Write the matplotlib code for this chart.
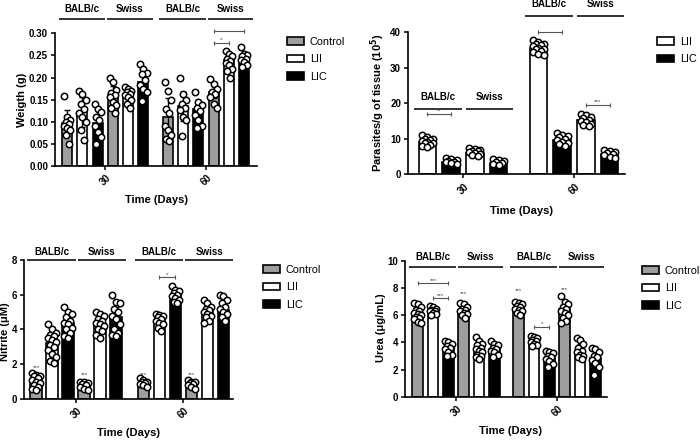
import matplotlib
matplotlib.use("Agg")
import matplotlib.pyplot as plt
import numpy as np
from matplotlib.patches import Patch

plt.rcParams['font.family'] = ['Liberation Sans', 'DejaVu Sans']

days = ["30", "60"]
strains = ["BALB/c", "Swiss"]
groups3 = ["Control", "LII", "LIC"]
groups2 = ["LII", "LIC"]

# order inside each day: BALB/c (Control, LII, LIC), Swiss (Control, LII, LIC)
weight_mean = [0.097, 0.122, 0.098, 0.160, 0.160, 0.191,
               0.110, 0.135, 0.128, 0.168, 0.239, 0.241]
weight_sd = [0.029, 0.034, 0.030, 0.020, 0.016, 0.017,
             0.043, 0.033, 0.021, 0.015, 0.012, 0.010]
weight_pts = [
    [0.159, 0.111, 0.105, 0.100, 0.095, 0.090, 0.085, 0.081, 0.070, 0.050],
    [0.170, 0.162, 0.150, 0.141, 0.130, 0.119, 0.110, 0.100, 0.081, 0.059],
    [0.141, 0.130, 0.123, 0.111, 0.104, 0.090, 0.077, 0.066, 0.050],
    [0.200, 0.190, 0.171, 0.165, 0.160, 0.155, 0.145, 0.138, 0.132, 0.119],
    [0.179, 0.175, 0.170, 0.168, 0.162, 0.160, 0.155, 0.149, 0.141, 0.132],
    [0.230, 0.220, 0.211, 0.208, 0.194, 0.183, 0.173, 0.168, 0.147],
    [0.190, 0.170, 0.149, 0.130, 0.119, 0.090, 0.081, 0.070, 0.062, 0.057],
    [0.200, 0.162, 0.150, 0.141, 0.132, 0.126, 0.111, 0.104, 0.068],
    [0.168, 0.145, 0.138, 0.132, 0.125, 0.115, 0.104, 0.090, 0.087],
    [0.196, 0.185, 0.175, 0.168, 0.162, 0.155, 0.141, 0.132],
    [0.260, 0.254, 0.248, 0.243, 0.238, 0.233, 0.228, 0.220, 0.215, 0.200],
    [0.268, 0.254, 0.250, 0.248, 0.243, 0.240, 0.235, 0.228, 0.223],
]

# order inside each day: BALB/c (LII, LIC), Swiss (LII, LIC)
parasite_mean = [9.2, 3.6, 6.1, 3.3, 35.5, 9.7, 15.3, 5.7]
parasite_sd = [1.0, 0.5, 0.7, 0.6, 1.2, 1.1, 1.0, 0.7]
parasite_pts = [
    [11.0, 10.5, 10.0, 9.8, 9.6, 9.3, 9.0, 8.9, 8.7, 8.3, 8.0, 7.6],
    [4.5, 4.2, 4.0, 3.8, 3.6, 3.4, 3.2, 3.0],
    [7.4, 7.2, 6.9, 6.6, 6.5, 6.3, 6.0, 5.7, 5.4, 5.1],
    [4.3, 4.0, 3.7, 3.4, 3.1, 2.8, 2.6],
    [37.8, 37.3, 36.8, 36.6, 36.4, 36.0, 35.6, 35.4, 35.2, 34.8, 34.4, 34.0, 33.6],
    [11.6, 11.2, 10.8, 10.4, 10.0, 9.6, 9.2, 8.8, 8.4, 8.0],
    [17.0, 16.6, 16.2, 15.8, 15.4, 15.0, 14.6, 14.2, 13.8, 13.6],
    [6.8, 6.6, 6.3, 6.0, 5.7, 5.4, 5.0, 4.6],
]

nitrite_mean = [0.96, 3.25, 4.37, 0.75, 4.30, 4.70,
                0.90, 4.57, 5.90, 0.85, 5.00, 5.15]
nitrite_sd = [0.30, 0.70, 0.50, 0.15, 0.45, 0.60,
              0.15, 0.30, 0.30, 0.15, 0.40, 0.45]
nitrite_pts = [
    [1.5, 1.4, 1.3, 1.3, 1.2, 1.1, 1.0, 0.9, 0.8, 0.7, 0.6, 0.5],
    [4.3, 4.0, 3.8, 3.7, 3.6, 3.5, 3.4, 3.3, 3.1, 3.0, 2.8, 2.6, 2.4, 2.2, 2.1],
    [5.3, 5.0, 4.9, 4.7, 4.5, 4.4, 4.3, 4.1, 4.0, 3.8, 3.6, 3.5],
    [1.0, 0.95, 0.9, 0.85, 0.8, 0.7, 0.6, 0.5],
    [5.0, 4.9, 4.8, 4.6, 4.5, 4.4, 4.3, 4.2, 4.0, 3.9, 3.7, 3.5],
    [6.0, 5.6, 5.5, 5.2, 5.0, 4.8, 4.6, 4.3, 4.0, 3.8, 3.7, 3.6],
    [1.2, 1.1, 1.0, 0.95, 0.9, 0.85, 0.8, 0.7],
    [4.9, 4.85, 4.8, 4.7, 4.6, 4.5, 4.4, 4.3, 4.1, 3.9],
    [6.5, 6.3, 6.2, 6.1, 6.0, 5.9, 5.8, 5.7, 5.6, 5.5],
    [1.1, 1.0, 0.95, 0.9, 0.85, 0.8, 0.7, 0.6],
    [5.7, 5.5, 5.3, 5.2, 5.1, 5.0, 4.9, 4.8, 4.7, 4.5, 4.4],
    [6.0, 5.9, 5.7, 5.5, 5.3, 5.2, 5.0, 4.9, 4.7, 4.5],
]

urea_mean = [6.05, 6.25, 3.56, 6.37, 3.56, 3.48,
             6.55, 4.10, 2.88, 6.44, 3.37, 2.88]
urea_sd = [0.45, 0.20, 0.35, 0.30, 0.45, 0.35,
           0.30, 0.25, 0.35, 0.55, 0.55, 0.60]
urea_pts = [
    [6.9, 6.8, 6.6, 6.4, 6.3, 6.2, 6.1, 6.0, 5.9, 5.8, 5.7, 5.5, 5.4],
    [6.7, 6.6, 6.5, 6.4, 6.35, 6.3, 6.2, 6.1, 6.0],
    [4.1, 4.0, 3.9, 3.7, 3.6, 3.5, 3.3, 3.1, 3.0],
    [6.9, 6.8, 6.6, 6.5, 6.4, 6.3, 6.2, 6.1, 6.0, 5.8],
    [4.4, 4.1, 3.9, 3.8, 3.6, 3.5, 3.4, 3.3, 3.1, 3.0, 2.9, 2.8],
    [4.1, 3.9, 3.8, 3.6, 3.5, 3.4, 3.3, 3.1, 2.9],
    [7.0, 6.9, 6.8, 6.7, 6.6, 6.5, 6.4, 6.3, 6.2, 6.0],
    [4.5, 4.4, 4.3, 4.2, 4.1, 4.0, 3.9, 3.8, 3.7],
    [3.4, 3.3, 3.2, 3.0, 2.9, 2.8, 2.6, 2.4, 2.2],
    [7.4, 7.0, 6.8, 6.6, 6.5, 6.3, 6.2, 6.0, 5.8, 5.6, 5.4],
    [4.3, 4.2, 3.9, 3.6, 3.4, 3.3, 3.1, 3.0, 2.9, 2.8],
    [3.6, 3.5, 3.3, 3.0, 2.9, 2.7, 2.5, 2.2, 1.6],
]

GRAY = '#9e9e9e'
fill3 = [GRAY, 'white', 'black']
fill2 = ['white', 'black']
jit = [-0.22, 0.0, 0.22, -0.11, 0.11]


def draw_panel(ax, means, sds, pts, fills, gap, width):
    per_day = len(means) // 2
    xs = [d * gap + i - (per_day - 1) / 2 for d in range(2) for i in range(per_day)]
    colors = [fills[i % len(fills)] for i in range(len(means))]
    ax.bar(xs, means, width, color=colors, edgecolor='black', linewidth=1.2, zorder=2)
    ax.errorbar(xs, means, yerr=sds, fmt='none', ecolor='black', elinewidth=1,
                capsize=2, capthick=1, zorder=3)
    for x, vals in zip(xs, pts):
        v = np.sort(vals)[::-1]
        offs = np.array([jit[k % 5] for k in range(len(v))]) * width / 0.7
        ax.plot(x + offs, v, 'o', ms=4.6, mfc='white', mec='black', mew=1.1,
                zorder=4, clip_on=False)
    return xs


def strain_lines(ax, gap, k, line_y, text_y):
    for d in range(2):
        c = d * gap
        spans = [(c - k - 0.05, c - 0.03), (c + 0.12, c + k + 0.1)]
        for (x1, x2), name in zip(spans, strains):
            ax.plot([x1, x2], [line_y[d], line_y[d]], color='#222222', lw=1.3,
                    clip_on=False, solid_capstyle='butt')
            ax.text((x1 + x2) / 2, text_y[d], name, ha='center', va='center',
                    fontsize=7, fontweight='bold')


def bracket(ax, xs, i, j, y, label):
    ax.plot([xs[i], xs[j]], [y, y], color='#555555', lw=0.8, marker='|', ms=3,
            mew=0.8, clip_on=False, zorder=5)
    ax.annotate(label, ((xs[i] + xs[j]) / 2, y), xytext=(0, 0.5),
                textcoords='offset points', ha='center', va='bottom',
                fontsize=4.5, color='#444444')


def style(ax, xlim, ylim, yticks, fmt, ylabel, ylab_xy, xlab_xy):
    ax.set_xlim(*xlim)
    ax.set_ylim(*ylim)
    ax.set_yticks(yticks)
    ax.set_yticklabels([fmt.format(t) for t in yticks], fontsize=7, fontweight='bold')
    ax.set_xticklabels(days, rotation=45, fontsize=7, fontweight='bold')
    for s in ['top', 'right']:
        ax.spines[s].set_visible(False)
    for s in ['left', 'bottom']:
        ax.spines[s].set_linewidth(1.2)
    ax.tick_params(length=3, width=1.1, pad=2)
    ax.set_ylabel(ylabel, fontsize=8, fontweight='bold')
    ax.yaxis.set_label_coords(*ylab_xy)
    ax.set_xlabel("Time (Days)", fontsize=8, fontweight='bold')
    ax.xaxis.set_label_coords(*xlab_xy)


def legend(ax, fig, names, fills, x, y):
    handles = [Patch(facecolor=f, edgecolor='black', linewidth=1.2, label=n)
               for n, f in zip(names, fills)]
    ax.legend(handles=handles, loc='upper left', bbox_to_anchor=(x, y),
              bbox_transform=fig.transFigure, frameon=False, fontsize=7.8,
              handlelength=1.6, handleheight=0.7, handletextpad=0.5,
              labelspacing=0.7, borderpad=0, borderaxespad=0)


fig = plt.figure(figsize=(7, 4.4), dpi=100)

# weight
ax = fig.add_axes([0.0786, 0.6227, 0.2886, 0.3016])
xs = draw_panel(ax, weight_mean, weight_sd, weight_pts, fill3, 6.6, 0.66)
ax.set_xticks([0, 6.6])
style(ax, (-3.3, 9.95), (0, 0.30), np.arange(0, 0.301, 0.05), "{:.2f}",
      "Weigth (g)", (-0.14, 0.5), (0.5, -0.219))
strain_lines(ax, 6.6, 3, [0.332, 0.332], [0.355, 0.355])
bracket(ax, xs, 9, 11, 0.306, "*")
bracket(ax, xs, 9, 10, 0.278, "*")
legend(ax, fig, groups3, fill3, 287 / 700, 1 - 36.8 / 440)

# parasites
ax = fig.add_axes([0.5829, 0.6039, 0.31, 0.3227])
xs = draw_panel(ax, parasite_mean, parasite_sd, parasite_pts, fill2, 4.66, 0.73)
ax.set_xticks([0, 4.66])
style(ax, (-2.31, 6.8), (0, 40), np.arange(0, 41, 10), "{:.0f}",
      "Parasites/g of tissue (10$^\\mathbf{5}$)", (-0.095, 0.506), (0.525, -0.223))
strain_lines(ax, 4.66, 2, [18.5, 44.7], [21.9, 48.0])
bracket(ax, xs, 0, 1, 17.1, "**")
bracket(ax, xs, 4, 5, 40.2, "***")
bracket(ax, xs, 6, 7, 19.5, "***")
legend(ax, fig, groups2, fill2, 657 / 700, 1 - 36.8 / 440)

# nitrite
ax = fig.add_axes([0.0343, 0.0932, 0.2986, 0.3159])
xs = draw_panel(ax, nitrite_mean, nitrite_sd, nitrite_pts, fill3, 6.7, 0.72)
ax.set_xticks([0, 6.7])
style(ax, (-3.25, 9.8), (0, 8), np.arange(0, 8.1, 2), "{:.0f}",
      "Nitrite (\u03bcM)", (-0.067, 0.484), (0.5, -0.209))
strain_lines(ax, 6.7, 3, [8.0, 8.0], [8.48, 8.48])
bracket(ax, xs, 7, 8, 7.0, "*")
for i, y in [(0, 1.82), (3, 1.38), (6, 1.38), (9, 1.38)]:
    ax.text(xs[i], y, "***", ha='center', va='center', fontsize=4.5, color='#444444')
legend(ax, fig, groups3, fill3, 263 / 700, 1 - 264.8 / 440)

# urea
ax = fig.add_axes([0.5786, 0.0984, 0.2886, 0.3084])
xs = draw_panel(ax, urea_mean, urea_sd, urea_pts, fill3, 6.6, 0.70)
ax.set_xticks([0, 6.6])
style(ax, (-3.33, 9.87), (0, 10), np.arange(0, 10.1, 2), "{:.0f}",
      "Urea (\u03bcg/mL)", (-0.095, 0.51), (0.52, -0.216))
strain_lines(ax, 6.6, 3, [9.53, 9.53], [10.27, 10.27])
bracket(ax, xs, 0, 2, 8.36, "***")
bracket(ax, xs, 1, 2, 7.25, "***")
bracket(ax, xs, 7, 8, 5.16, "*")
for i, y in [(3, 7.57), (6, 7.81), (9, 7.91)]:
    ax.text(xs[i], y, "***", ha='center', va='center', fontsize=4.5, color='#444444')
legend(ax, fig, groups3, fill3, 642 / 700, 1 - 265.8 / 440)

fig.savefig("out.png", dpi=100)
